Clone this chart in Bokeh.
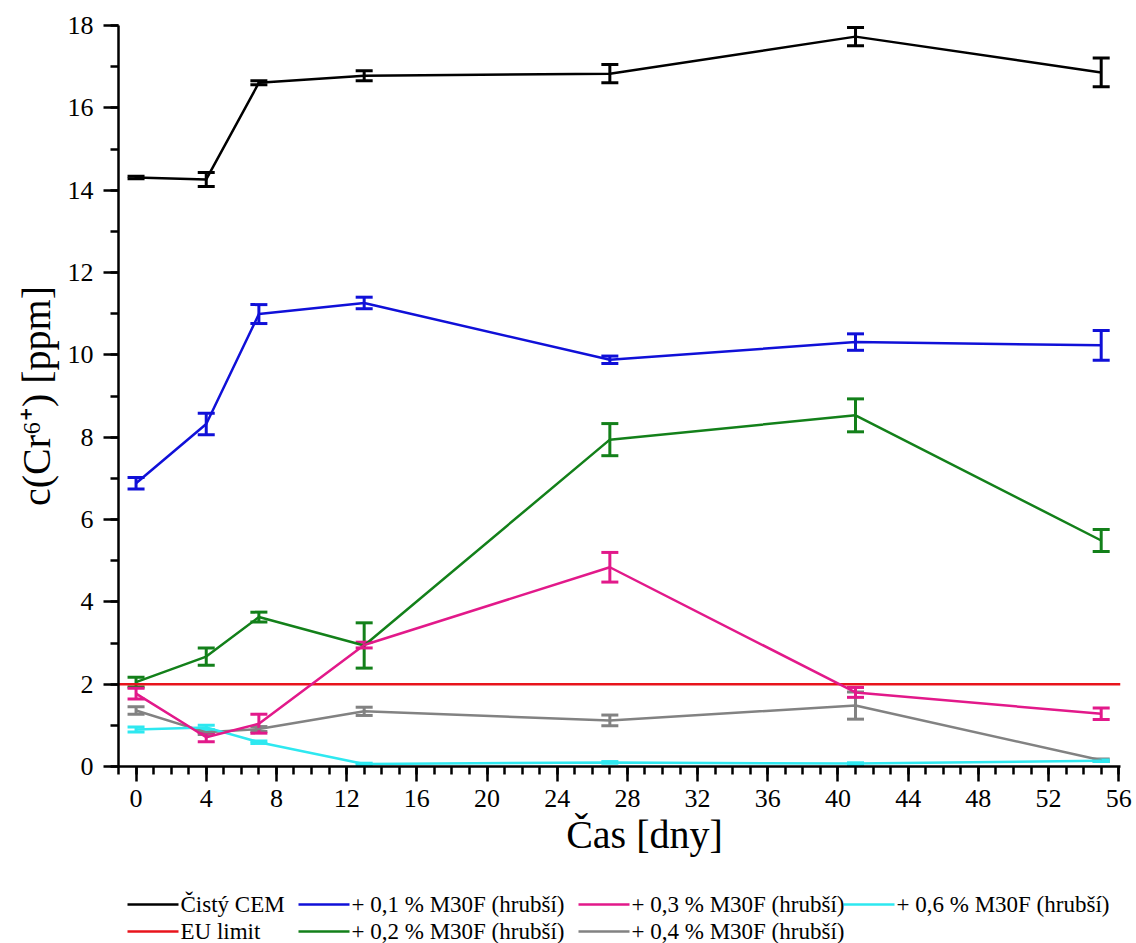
from bokeh.plotting import figure
from bokeh.layouts import column
from bokeh.models import (ColumnDataSource, Whisker, TeeHead, Range1d, FixedTicker)
from bokeh.core.properties import value
from bokeh.embed import file_html
from bokeh.resources import INLINE

# Sampling days
days = [0, 4, 7, 13, 27, 41, 55]

# Cr(VI) concentration [ppm] and standard deviations per mixture
cem_y = [14.31, 14.26, 16.61, 16.78, 16.83, 17.73, 16.86]
cem_e = [0.03, 0.17, 0.05, 0.12, 0.22, 0.22, 0.35]

m01_y = [6.88, 8.32, 10.99, 11.26, 9.88, 10.31, 10.23]
m01_e = [0.14, 0.26, 0.23, 0.14, 0.09, 0.20, 0.36]

m02_y = [2.05, 2.67, 3.63, 2.94, 7.94, 8.53, 5.49]
m02_e = [0.12, 0.21, 0.12, 0.55, 0.39, 0.40, 0.27]

m03_y = [1.77, 0.71, 1.04, 2.95, 4.84, 1.80, 1.28]
m03_e = [0.13, 0.11, 0.23, 0.07, 0.36, 0.12, 0.14]

m04_y = [1.36, 0.83, 0.91, 1.34, 1.12, 1.48, 0.15]
m04_e = [0.09, 0.05, 0.06, 0.10, 0.13, 0.33, 0.03]

m06_y = [0.90, 0.95, 0.59, 0.06, 0.10, 0.07, 0.14]
m06_e = [0.06, 0.05, 0.03, 0.02, 0.02, 0.02, 0.02]

eu_limit = 2.0

labels = {
    "cem": "Čistý CEM",
    "m01": "+ 0,1 % M30F (hrubší)",
    "m02": "+ 0,2 % M30F (hrubší)",
    "m03": "+ 0,3 % M30F (hrubší)",
    "m04": "+ 0,4 % M30F (hrubší)",
    "m06": "+ 0,6 % M30F (hrubší)",
    "eu": "EU limit",
}
colors = {
    "cem": "#000000",
    "m01": "#1010d8",
    "m02": "#13801a",
    "m03": "#e2198a",
    "m04": "#828282",
    "m06": "#2ee8f0",
    "eu": "#e8141c",
}

x_ticks = [0, 4, 8, 12, 16, 20, 24, 28, 32, 36, 40, 44, 48, 52, 56]
y_ticks = [0, 2, 4, 6, 8, 10, 12, 14, 16, 18]

X_MIN, X_MAX = -1.0, 56.1
FONT = "Liberation Serif"
NBSP = "\u00a0"

LEFT, RIGHT = 118, 16
p = figure(width=1136, height=878, output_backend="svg", toolbar_location=None,
           x_range=Range1d(X_MIN, X_MAX), y_range=Range1d(0, 18),
           min_border_left=LEFT, min_border_right=RIGHT, min_border_top=25,
           min_border_bottom=112)
p.outline_line_color = None
p.grid.visible = False
p.background_fill_color = "white"
p.border_fill_color = "white"

for ax in (p.xaxis[0], p.yaxis[0]):
    ax.axis_line_width = 2.5
    ax.axis_line_color = "black"
    ax.major_tick_line_width = 2.5
    ax.minor_tick_line_width = 2.5
    ax.major_tick_in = 0
    ax.minor_tick_in = 0
    ax.major_tick_out = 15
    ax.minor_tick_out = 8
    ax.major_label_text_font = FONT
    ax.major_label_text_font_size = "26px"
    ax.major_label_text_color = "black"
    ax.axis_label_text_font = FONT
    ax.axis_label_text_font_style = "normal"
    ax.axis_label_text_color = "black"
    ax.axis_label_text_font_size = "40px"

p.xaxis[0].ticker = FixedTicker(ticks=x_ticks, minor_ticks=list(range(-1, 57)))
p.yaxis[0].ticker = FixedTicker(ticks=y_ticks, minor_ticks=list(range(0, 19)))
# leading no-break spaces nudge the x title slightly right of centre
p.xaxis[0].axis_label = NBSP * 5 + "Čas [dny]"
p.yaxis[0].axis_label = "c(Cr⁶⁺) [ppm]"
p.xaxis[0].major_label_standoff = 8
p.yaxis[0].major_label_standoff = 10
p.xaxis[0].axis_label_standoff = 2
p.yaxis[0].axis_label_standoff = 6

draw_order = ["eu", "m02", "m04", "m06", "m03", "m01", "cem"]
data = {
    "cem": (cem_y, cem_e),
    "m01": (m01_y, m01_e),
    "m02": (m02_y, m02_e),
    "m03": (m03_y, m03_e),
    "m04": (m04_y, m04_e),
    "m06": (m06_y, m06_e),
}

for key in draw_order:
    color = colors[key]
    if key == "eu":
        p.line(x=[X_MIN, X_MAX], y=[eu_limit, eu_limit], line_color=color,
               line_width=2.5)
        continue
    ys, es = data[key]
    src = ColumnDataSource(dict(
        x=days, y=ys,
        upper=[v + e for v, e in zip(ys, es)],
        lower=[v - e for v, e in zip(ys, es)],
    ))
    p.line("x", "y", source=src, line_color=color, line_width=2.5)
    p.add_layout(Whisker(base="x", upper="upper", lower="lower", source=src,
                         line_color=color, line_width=3,
                         upper_head=TeeHead(size=17, line_color=color, line_width=3),
                         lower_head=TeeHead(size=17, line_color=color, line_width=3)))

# Legend strip under the chart; its frame lines up with the chart frame,
# so the x range is given in page pixels of that span
STRIP_H = 943 - 878
leg = figure(width=1136, height=STRIP_H, output_backend="svg", toolbar_location=None,
             x_range=Range1d(LEFT, 1136 - RIGHT), y_range=Range1d(0, STRIP_H),
             x_axis_location=None, y_axis_location=None,
             min_border_left=LEFT, min_border_right=RIGHT, min_border_top=0,
             min_border_bottom=0)
leg.outline_line_color = None
leg.grid.visible = False
leg.background_fill_color = "white"
leg.border_fill_color = "white"

rows = [["cem", "m01", "m03", "m06"], ["eu", "m02", "m04"]]
col_x = [127, 298, 578, 843]
row_y = [STRIP_H - 26, STRIP_H - 53]
SWATCH = 51

lx0, lx1, ly, lc, tx, ty, tt = [], [], [], [], [], [], []
for r, keys in enumerate(rows):
    for c, key in enumerate(keys):
        lx0.append(col_x[c])
        lx1.append(col_x[c] + SWATCH)
        ly.append(row_y[r])
        lc.append(colors[key])
        tx.append(col_x[c] + SWATCH + 2)
        ty.append(row_y[r])
        tt.append(labels[key])

leg.segment(x0=lx0, y0=ly, x1=lx1, y1=ly, line_color=lc, line_width=2.5)
leg.text(x=tx, y=ty, text=tt, text_font=value(FONT), text_font_size="23px",
         text_color="black", text_baseline="middle", text_align="left")

layout = column(p, leg, spacing=0)
open("out.html", "w").write(file_html(layout, INLINE))
